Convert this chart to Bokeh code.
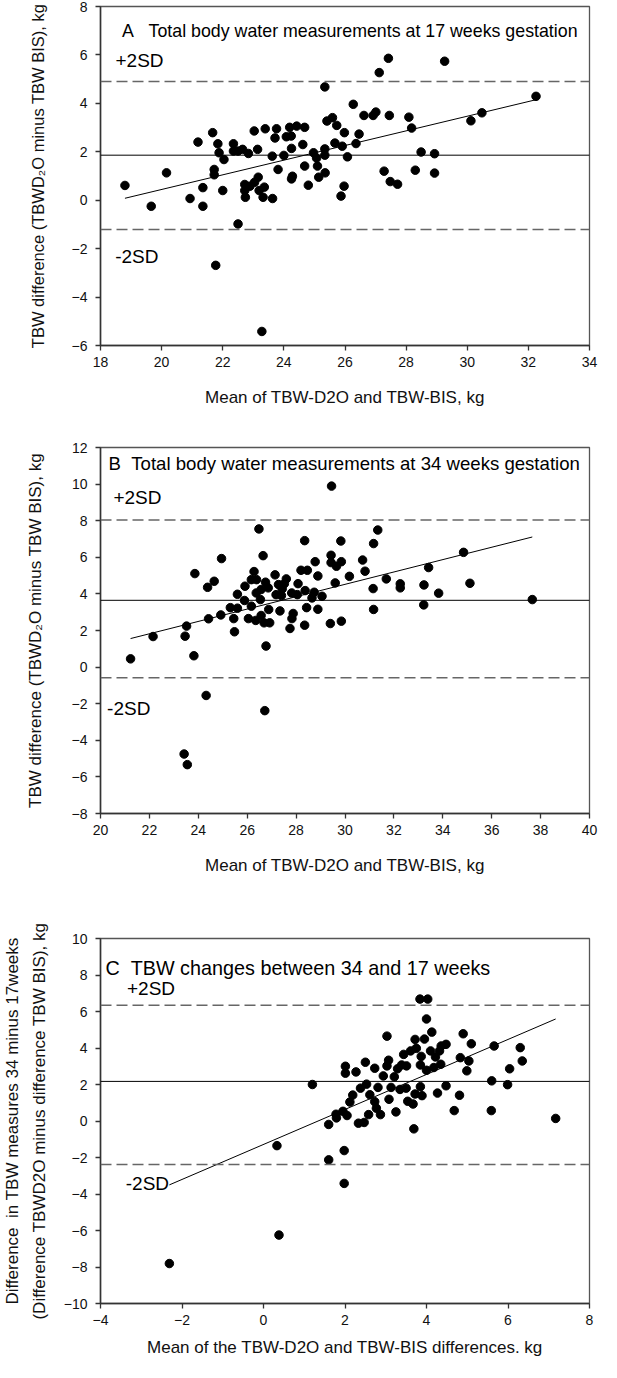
from bokeh.plotting import figure
from bokeh.layouts import column
from bokeh.models import Range1d, FixedTicker, ColumnDataSource, Span
from bokeh.embed import file_html
from bokeh.resources import INLINE
from bokeh.core.properties import value

FONT = "Liberation Sans"
NB = "\u00a0"

# ---------------- Panel A data (17 weeks) ----------------
a_points = [
    (18.8, 0.61), (19.66, -0.25), (20.16, 1.13), (20.93, 0.07), (21.19, 2.4),
    (21.35, 0.52), (21.35, -0.25), (21.67, 2.79), (21.72, 1.27), (21.72, 1.05),
    (21.84, 2.33), (21.88, 1.96), (22.04, 1.68), (22.0, 0.4), (22.5, -0.98),
    (21.77, -2.69), (22.35, 2.33), (22.35, 2.03), (22.5, 2.03), (22.65, 2.1),
    (22.84, 1.93), (23.03, 2.86), (23.14, 2.1), (22.72, 0.65), (22.72, 0.4),
    (22.74, 0.12), (22.89, 0.58), (23.04, 0.74), (23.16, 0.95), (23.19, 0.4),
    (23.36, 0.54), (23.32, 0.12), (23.39, 2.95), (23.62, 1.82), (23.63, 0.07),
    (23.28, -5.42), (23.76, 2.95), (23.71, 2.57), (23.81, 1.27), (24.0, 1.85),
    (24.08, 2.62), (24.19, 3.01), (24.24, 2.65), (24.25, 2.14), (24.42, 3.06),
    (24.25, 0.88), (24.28, 0.99), (24.68, 3.01), (24.62, 2.3), (24.68, 1.41),
    (24.8, 0.62), (24.97, 1.96), (25.07, 1.74), (25.1, 1.41), (25.14, 0.95),
    (25.34, 4.68), (25.34, 2.12), (25.34, 1.86), (25.35, 1.13), (25.41, 3.27),
    (25.59, 3.41), (25.73, 3.09), (25.67, 2.36), (25.91, 2.23), (25.98, 2.79),
    (26.08, 1.79), (25.97, 0.58), (25.87, 0.17), (26.27, 3.96), (26.36, 2.34),
    (26.46, 2.73), (26.62, 3.5), (26.92, 3.5), (27.01, 3.64), (27.12, 5.27),
    (27.42, 5.86), (27.45, 3.5), (27.28, 1.2), (27.48, 0.77), (27.72, 0.66),
    (28.09, 3.43), (28.18, 2.98), (28.49, 1.99), (28.3, 1.24), (28.93, 1.92),
    (28.93, 1.12), (29.26, 5.74), (30.12, 3.28), (30.48, 3.61), (32.25, 4.29),
]
a_mean, a_upper, a_lower = 1.86, 4.90, -1.21
a_reg_x = [18.8, 32.25]
a_reg_y = [0.08, 4.15]
a_xticks = [18, 20, 22, 24, 26, 28, 30, 32, 34]
a_yticks = [-6, -4, -2, 0, 2, 4, 6, 8]
a_title = ["A" + NB * 3 + "Total body water measurements at 17 weeks gestation"]
a_title_x, a_title_y = [18.70], [7.0]
a_sd_x, a_sd_y, a_sd_t = [18.49, 18.48], [5.76, -2.31], ["+2SD", "-2SD"]

# ---------------- Panel B data (34 weeks) ----------------
b_points = [
    (21.23, 0.45), (22.15, 1.67), (23.46, 1.69), (23.52, 2.24), (23.82, 0.62),
    (23.86, 5.11), (23.42, -4.75), (23.55, -5.33), (24.32, -1.55), (24.38, 4.36),
    (24.42, 2.64), (24.65, 4.69), (24.95, 5.93), (24.92, 2.85), (25.31, 3.25),
    (25.45, 2.65), (25.48, 1.93), (25.6, 3.98), (25.6, 3.22), (25.91, 4.42),
    (25.89, 3.64), (26.05, 2.65), (26.17, 3.33), (26.28, 5.22), (26.17, 4.78),
    (26.38, 4.78), (26.37, 4.05), (26.48, 7.55), (26.35, 2.55), (26.54, 3.69),
    (26.57, 4.24), (26.65, 6.09), (26.57, 2.82), (26.69, 2.42), (26.77, 1.15),
    (26.72, -2.38), (26.75, 4.64), (26.86, 4.33), (26.88, 3.15), (26.92, 2.42),
    (27.14, 5.04), (27.18, 3.96), (27.28, 4.51), (27.34, 3.07), (27.4, 3.91),
    (27.43, 4.27), (27.52, 4.56), (27.6, 4.82), (27.82, 4.05), (27.75, 2.11),
    (27.83, 2.65), (27.88, 2.93), (28.08, 4.56), (28.05, 3.96), (28.2, 5.29),
    (28.35, 6.91), (28.37, 4.18), (28.35, 2.29), (28.43, 3.25), (28.46, 5.29),
    (28.65, 3.78), (28.74, 4.09), (28.78, 5.76), (28.89, 4.98), (28.89, 3.16),
    (29.06, 3.87), (29.45, 9.89), (29.43, 6.11), (29.43, 5.71), (29.65, 5.51),
    (29.85, 5.76), (29.83, 6.89), (29.6, 4.6), (29.4, 2.38), (29.85, 2.51),
    (30.18, 4.96), (30.72, 5.85), (30.82, 5.24), (31.17, 6.75), (31.34, 7.49),
    (31.15, 4.29), (31.17, 3.15), (31.69, 4.82), (32.26, 4.55), (32.26, 4.33),
    (33.23, 4.49), (33.22, 3.4), (33.42, 5.44), (33.83, 4.04), (34.85, 6.27),
    (35.11, 4.58), (37.66, 3.69),
]
b_mean, b_upper, b_lower = 3.65, 8.04, -0.58
b_reg_x = [21.23, 37.66]
b_reg_y = [1.56, 7.11]
b_xticks = [20, 22, 24, 26, 28, 30, 32, 34, 36, 38, 40]
b_yticks = [-8, -6, -4, -2, 0, 2, 4, 6, 8, 10, 12]
b_title = ["B" + NB * 2 + "Total body water measurements at 34 weeks gestation"]
b_title_x, b_title_y = [20.33], [11.14]
b_sd_x, b_sd_y, b_sd_t = [20.53, 20.27], [9.27, -2.25], ["+2SD", "-2SD"]

# ---------------- Panel C data (change 34 - 17 weeks) ----------------
c_points = [
    (-2.31, -7.81), (0.38, -6.25), (0.33, -1.35), (1.2, 2.0), (1.6, -2.13),
    (1.6, -0.19), (1.78, 0.37), (1.79, 0.17), (1.95, 0.53), (1.98, -1.62),
    (1.98, -3.42), (2.01, 3.0), (2.01, 2.62), (2.05, 0.3), (2.12, 1.04),
    (2.19, 1.42), (2.27, 2.69), (2.33, -0.12), (2.38, 1.8), (2.47, -0.08),
    (2.5, 3.22), (2.53, 2.02), (2.58, 0.35), (2.61, 1.44), (2.73, 1.06),
    (2.73, 2.89), (2.77, 0.7), (2.81, 1.84), (2.87, 0.35), (2.94, 2.47),
    (3.03, 4.65), (3.03, 3.02), (3.07, 3.33), (3.08, 1.19), (3.13, 1.84),
    (3.21, 2.42), (3.25, 0.5), (3.29, 2.86), (3.35, 1.73), (3.39, 3.07),
    (3.44, 3.65), (3.5, 1.8), (3.51, 3.02), (3.54, 1.08), (3.61, 3.84),
    (3.67, 0.93), (3.69, -0.43), (3.72, 4.47), (3.75, 3.98), (3.72, 1.48),
    (3.84, 6.68), (3.85, 3.07), (3.85, 1.88), (3.87, 3.54), (3.89, 1.39),
    (3.95, 4.49), (4.0, 5.59), (4.03, 6.68), (4.0, 2.78), (4.1, 3.84),
    (4.13, 4.87), (4.18, 2.93), (4.22, 3.51), (4.27, 1.53), (4.32, 3.84),
    (4.35, 3.11), (4.36, 4.11), (4.48, 4.2), (4.48, 1.93), (4.68, 0.57),
    (4.81, 1.41), (4.83, 3.47), (4.9, 4.78), (4.99, 2.75), (5.04, 3.29),
    (5.1, 4.23), (5.6, 2.2), (5.59, 0.57), (5.66, 4.11), (5.99, 1.99),
    (6.04, 2.86), (6.3, 4.02), (6.35, 3.29), (7.17, 0.14),
]
c_mean, c_upper, c_lower = 2.17, 6.34, -2.38
c_reg_x = [-2.31, 7.17]
c_reg_y = [-3.5, 5.59]
c_xticks = [-4, -2, 0, 2, 4, 6, 8]
c_yticks = [-10, -8, -6, -4, -2, 0, 2, 4, 6, 8, 10]
c_title = ["C" + NB * 2 + "TBW changes between 34 and 17 weeks"]
c_title_x, c_title_y = [-3.88], [8.38]
c_sd_x, c_sd_y, c_sd_t = [-3.35, -3.38], [7.28, -3.45], ["+2SD", "-2SD"]

YLAB_AB = "TBW difference (TBWD\u2082O minus TBW BIS), kg"
XLAB_AB = "Mean of TBW-D2O and TBW-BIS, kg"
YLAB_C = ("Difference" + NB + " in TBW measures 34 minus 17weeks\n"
          "(Difference TBWD2O minus difference TBW BIS), kg")
XLAB_C = "Mean of the TBW-D2O and TBW-BIS differences. kg"


def add_text(p, xs, ys, ts, size):
    src = ColumnDataSource(dict(x=xs, y=ys, t=ts))
    p.text("x", "y", text="t", source=src, text_font=value(FONT),
           text_font_size=size, text_baseline="middle", text_align="left",
           text_color="black")


def panel(points, xr, yr, xticks, yticks, mean, upper, lower, reg_x, reg_y,
          title, title_x, title_y, title_size, sd_x, sd_y, sd_t,
          xlabel, ylabel, height, borders, ylab_standoff,
          xlab_standoff, ylab_lh=1.2, ylab_size="17px"):
    left, right, top, bottom = borders
    p = figure(width=601, height=height, x_range=Range1d(*xr), y_range=Range1d(*yr),
               output_backend="svg", toolbar_location=None,
               min_border_left=left, min_border_right=right,
               min_border_top=top, min_border_bottom=bottom)
    p.grid.visible = False
    p.outline_line_color = "#555555"
    p.outline_line_width = 1.3
    p.background_fill_color = "white"
    p.border_fill_color = "white"

    for val, dash, col, w in [(upper, "11 5", "#666666", 1.6),
                              (lower, "11 5", "#666666", 1.6),
                              (mean, "solid", "black", 1.0)]:
        p.add_layout(Span(location=val, dimension="width", line_color=col,
                          line_width=w, line_dash=dash))

    p.line(reg_x, reg_y, line_color="black", line_width=1.0)

    src = ColumnDataSource(dict(x=[q[0] for q in points], y=[q[1] for q in points]))
    p.scatter("x", "y", source=src, size=8.5, color="black")

    add_text(p, title_x, title_y, title, title_size)
    add_text(p, sd_x, sd_y, sd_t, "19px")

    for ax, ticks in [(p.xaxis[0], xticks), (p.yaxis[0], yticks)]:
        ax.ticker = FixedTicker(ticks=ticks)
        ax.major_tick_out = 5
        ax.major_tick_in = 0
        ax.minor_tick_line_color = None
        ax.axis_line_color = "#333333"
        ax.axis_line_width = 1.5
        ax.major_tick_line_color = "#333333"
        ax.major_tick_line_width = 1.3
        ax.major_label_text_font = FONT
        ax.major_label_text_font_size = "14px"
        ax.major_label_text_color = "#111111"
        ax.axis_label_text_font = FONT
        ax.axis_label_text_font_size = "17px"
        ax.axis_label_text_font_style = "normal"
        ax.axis_label_text_color = "#111111"
    p.xaxis[0].axis_label = xlabel
    p.yaxis[0].axis_label = ylabel
    p.yaxis[0].axis_label_text_font_size = ylab_size
    p.xaxis[0].major_label_standoff = 6
    p.yaxis[0].major_label_standoff = 8
    p.xaxis[0].axis_label_standoff = xlab_standoff
    p.yaxis[0].axis_label_standoff = ylab_standoff
    p.yaxis[0].axis_label_text_line_height = ylab_lh
    return p


pa = panel(a_points, (18, 34), (-6, 8), a_xticks, a_yticks, a_mean, a_upper, a_lower,
           a_reg_x, a_reg_y, a_title, a_title_x, a_title_y, "17.8px",
           a_sd_x, a_sd_y, a_sd_t, XLAB_AB, YLAB_AB,
           437, (80, 12, 6, 92), 22, 18, 1.2, "16.5px")
pb = panel(b_points, (20, 40), (-8, 12), b_xticks, b_yticks, b_mean, b_upper, b_lower,
           b_reg_x, b_reg_y, b_title, b_title_x, b_title_y, "18.6px",
           b_sd_x, b_sd_y, b_sd_t, XLAB_AB, YLAB_AB,
           445, (84, 5, 10, 69), 24, 18)
pc = panel(c_points, (-4, 8), (-10, 10), c_xticks, c_yticks, c_mean, c_upper, c_lower,
           c_reg_x, c_reg_y, c_title, c_title_x, c_title_y, "19.8px",
           c_sd_x, c_sd_y, c_sd_t, XLAB_C, YLAB_C,
           479, (92, 5, 56, 58), 12, 10, 1.4)

layout = column(pa, pb, pc, spacing=0)
open("out.html", "w").write(file_html(layout, INLINE))
